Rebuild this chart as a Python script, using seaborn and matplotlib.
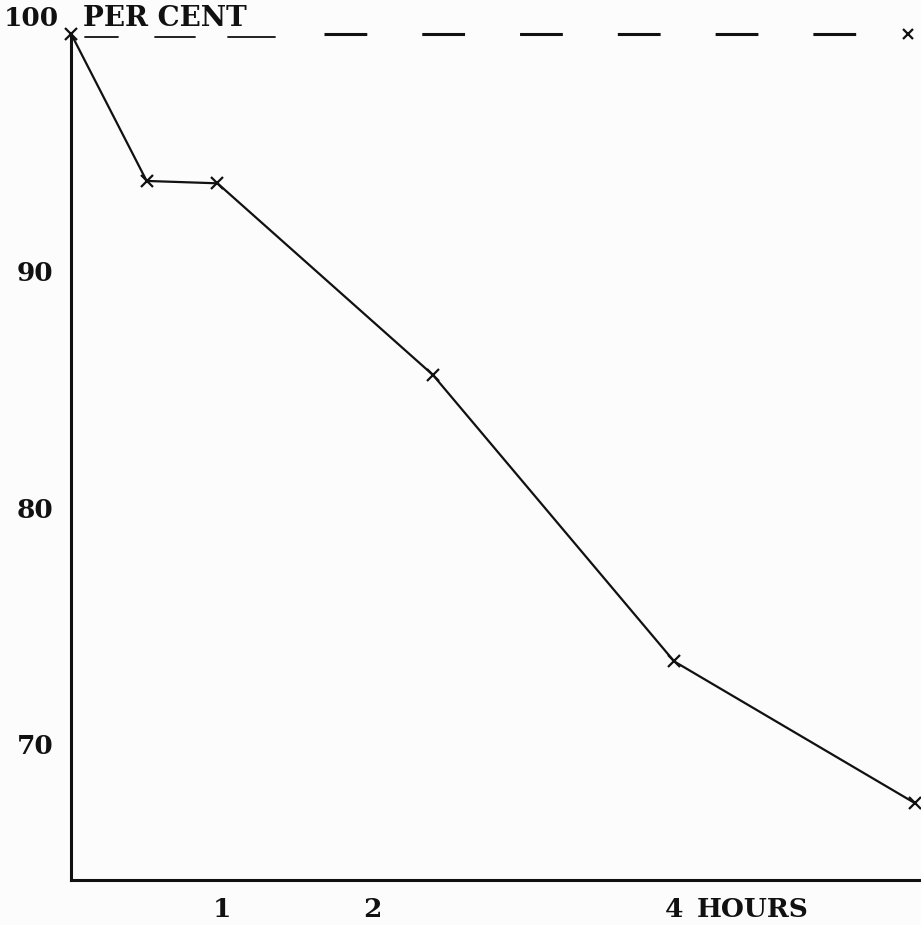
import numpy as np
import pandas as pd
import matplotlib.pyplot as plt
import seaborn as sns

# data
hours = [0.0, 0.5, 0.97, 2.4, 4.0, 5.6]
per_cent = [100.0, 93.8, 93.7, 85.6, 73.5, 67.5]
ref_hours = [1.68, 5.55]
ref_level = [100.0, 100.0]
x_ticks = [1, 2, 4]
x_labels = ["1", "2", "4"]
y_ticks = [90, 80, 70]
y_labels = ["90", "80", "70"]

sns.set_style("white")
plt.rcParams["font.family"] = ["DejaVu Serif"]
plt.rcParams["font.weight"] = "bold"

W, H = 921, 925
fig = plt.figure(figsize=(W / 100, H / 100), dpi=100)
fig.patch.set_facecolor("#fcfcfc")
ax = fig.add_axes([71.3 / W, 45 / H, 1 - 71.3 / W, 0.963 - 45 / H])
ax.set_facecolor("#fcfcfc")

df = pd.DataFrame({"hours": hours, "per_cent": per_cent})
sns.lineplot(data=df, x="hours", y="per_cent", color="#111111", linewidth=1.6,
             marker="x", markersize=8, markeredgewidth=1.6, markeredgecolor="#111111",
             ax=ax, clip_on=False, zorder=3)

ref = pd.DataFrame({"hours": ref_hours, "per_cent": ref_level})
ax.plot(ref["hours"], ref["per_cent"], color="#111111", linewidth=2.2,
        dashes=(14, 18), clip_on=False)
ax.plot(ref["hours"].iloc[-1:], ref["per_cent"].iloc[-1:], marker="x", color="#111111",
        markersize=7, markeredgewidth=1.6, linestyle="none", clip_on=False)

ax.set_xlim(0, (W - 71.3) / 150.7)
ax.set_ylim(64.26, 100)

for side in ["top", "right"]:
    ax.spines[side].set_visible(False)
for side in ["left", "bottom"]:
    ax.spines[side].set_linewidth(2.2)
    ax.spines[side].set_color("#111111")

fs = 19
tick_len, tick_pad = 8, 4
ax.set_xticks(x_ticks)
ax.set_xticklabels(x_labels, fontsize=fs, fontweight="bold")
ax.set_yticks(y_ticks)
ax.set_yticklabels(y_labels, fontsize=fs, fontweight="bold")
ax.tick_params(axis="x", direction="out", length=tick_len, width=1.2, pad=tick_pad,
               colors="#111111")
ax.tick_params(axis="y", length=0, pad=13, colors="#111111")
ax.set_xlabel("")
ax.set_ylabel("")

# "HOURS" follows the last tick label, top-aligned like the tick labels
ax.annotate("HOURS", xy=(4, 64.26), xytext=(16, -(tick_len + tick_pad)),
            textcoords="offset points", ha="left", va="top", fontsize=fs,
            fontweight="bold", color="#111111", annotation_clip=False)

fig.text(4 / W, 1 - 26 / H, "100", fontsize=fs, fontweight="bold", color="#111111",
         ha="left", va="baseline")
fig.text(83 / W, 1 - 26 / H, "PER CENT", fontsize=fs + 1, fontweight="bold", color="#111111",
         ha="left", va="baseline")
# broken underline under the heading
for x0, x1 in [(85, 118), (155, 195), (228, 275)]:
    fig.add_artist(plt.Line2D([x0 / W, x1 / W], [1 - 37 / H, 1 - 37 / H],
                              color="#111111", linewidth=1.3))

fig.savefig("out.png", dpi=100, facecolor=fig.get_facecolor())
